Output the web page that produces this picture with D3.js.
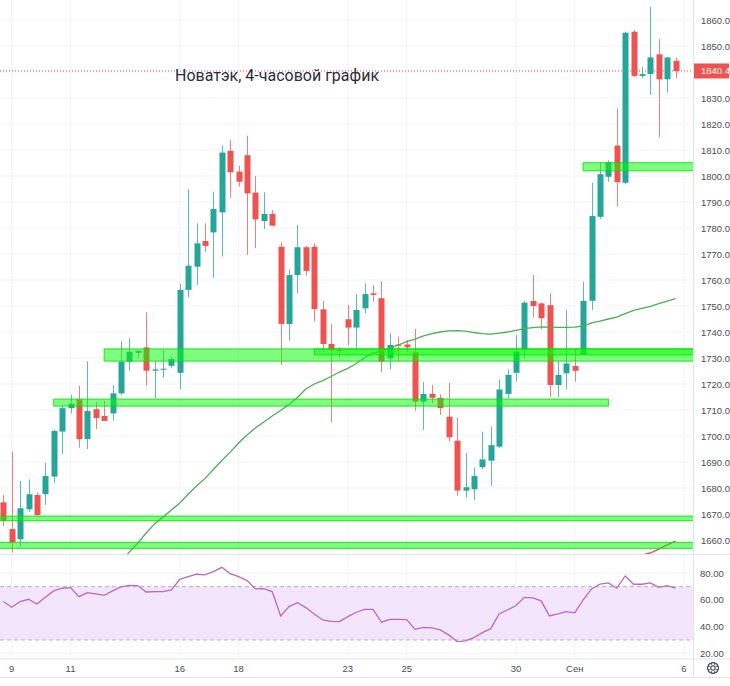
<!DOCTYPE html>
<html lang="ru">
<head>
<meta charset="UTF-8" />
<title>Новатэк, 4-часовой график</title>
<script src="https://d3js.org/d3.v7.min.js"></script>
<style>
  body { margin: 0; background: #fff; }
  svg text { font-family: "Liberation Sans Narrow", "Liberation Sans", Arial, sans-serif; }
  .grid line { stroke: #f0f3fa; }
  .axis-text { font-size: 9.5px; fill: #4a4d57; }
</style>
</head>
<body>
<svg id="chart" width="730" height="686"></svg>
<script>
// bar index -1 .. 79 (4-hour bars)
const opens = [1674.5,1664.2,1660.3,1671.8,1677.3,1677.6,1684.4,1701.7,1710.7,1714.1,1698.8,1710.3,1707.7,1708.7,1716.4,1728.6,1732.0,1734.1,1725.1,1725.5,1727.0,1724.3,1756.2,1765.1,1775.0,1778.3,1786.0,1809.7,1801.7,1808.0,1793.6,1782.7,1785.4,1772.8,1743.1,1761.9,1772.6,1772.8,1748.7,1735.4,1733.1,1744.9,1741.7,1749.1,1754.9,1753.0,1729.9,1735.2,1735.2,1732.2,1713.2,1716.2,1714.7,1707.4,1698.2,1679.0,1679.5,1688.0,1690.5,1695.9,1716.2,1724.3,1733.3,1751.9,1751.0,1750.3,1719.6,1724.1,1726.9,1731.2,1752.0,1784.3,1799.7,1811.7,1797.4,1855.5,1838.5,1839.2,1846.8,1837.2,1844.3];
const highs = [1677.3,1694.0,1682.7,1683.3,1678.3,1689.7,1702.5,1711.5,1715.8,1719.3,1728.8,1713.2,1713.5,1719.6,1736.5,1737.6,1732.8,1747.6,1728.6,1733.1,1730.5,1758.5,1795.0,1781.8,1781.8,1794.0,1811.7,1813.8,1804.0,1815.5,1800.0,1793.7,1786.9,1774.5,1764.1,1781.2,1773.1,1774.1,1752.0,1743.0,1734.1,1750.4,1754.6,1758.7,1758.1,1759.6,1739.5,1738.2,1736.9,1741.2,1720.7,1719.6,1716.0,1720.5,1707.0,1693.6,1687.8,1701.7,1703.6,1721.8,1725.5,1738.8,1752.0,1761.9,1751.4,1754.9,1728.6,1748.5,1733.7,1759.4,1797.4,1805.3,1806.0,1826.0,1855.5,1856.2,1842.0,1865.1,1852.6,1845.6,1845.6];
const lows = [1665.4,1655.1,1657.4,1670.7,1669.3,1673.5,1682.0,1693.1,1708.7,1695.5,1695.0,1702.6,1705.8,1705.9,1715.8,1725.1,1729.9,1719.3,1714.5,1722.4,1726.0,1718.0,1753.3,1758.1,1770.9,1760.9,1769.0,1791.7,1795.9,1769.6,1772.2,1779.6,1780.9,1727.3,1736.7,1754.9,1761.7,1744.0,1732.4,1705.3,1730.3,1735.0,1733.1,1747.2,1751.7,1724.7,1725.7,1728.6,1732.4,1709.7,1702.3,1712.6,1708.1,1697.8,1677.0,1676.3,1675.4,1687.2,1680.8,1695.3,1714.5,1720.9,1729.5,1745.6,1741.0,1714.9,1714.9,1718.0,1720.9,1731.2,1748.5,1783.5,1797.8,1788.2,1796.9,1838.0,1837.6,1831.2,1814.9,1832.0,1837.6];
const closes = [1667.4,1659.1,1672.2,1677.6,1669.6,1684.6,1701.9,1710.7,1712.4,1698.8,1709.6,1706.9,1705.8,1716.4,1728.6,1732.4,1732.8,1725.1,1725.6,1725.9,1729.6,1756.2,1765.5,1774.1,1773.1,1787.3,1809.0,1801.4,1797.8,1793.3,1783.3,1785.4,1780.9,1743.1,1761.9,1772.6,1763.5,1748.8,1735.4,1733.1,1732.7,1741.7,1748.5,1754.6,1754.3,1728.6,1735.0,1734.7,1734.1,1713.2,1716.2,1714.7,1710.7,1699.5,1679.0,1680.3,1684.6,1691.0,1696.5,1717.9,1723.5,1732.4,1751.3,1750.0,1745.3,1719.6,1723.5,1727.9,1725.1,1752.0,1784.6,1800.7,1805.3,1797.6,1855.1,1838.5,1839.2,1845.6,1837.2,1845.6,1840.4];
const firstBar = -1;

// green moving average, bars 13 .. 79
const maStart = 13;
const maGreen = [1651.5,1655.4,1658.8,1662.7,1666.2,1668.8,1671.5,1674.2,1677.7,1680.8,1683.7,1687.1,1690.6,1693.8,1697.3,1700.4,1703.1,1705.4,1707.7,1709.8,1712.1,1714.8,1718.1,1720.0,1721.3,1722.9,1724.6,1726.0,1727.9,1730.2,1731.9,1732.7,1733.7,1735.0,1736.3,1737.3,1738.5,1739.4,1740.0,1740.4,1740.5,1740.3,1739.8,1739.4,1739.2,1739.6,1740.0,1740.6,1741.3,1741.7,1742.0,1741.9,1741.8,1741.8,1741.9,1742.3,1743.5,1744.2,1745.0,1745.7,1747.1,1748.3,1749.1,1749.9,1750.9,1751.9,1752.8];
// red moving average, bars 75 .. 79
const maRedStart = 75;
const maRed = [1654.2,1655.0,1656.5,1658.1,1659.6];

// RSI, bars -1 .. 79
const rsi = [58.8,54.5,58.8,60.5,57.0,62.0,66.8,68.8,69.3,62.5,65.5,64.5,63.5,66.8,69.8,71.0,70.8,66.0,66.3,66.3,67.5,75.5,77.5,79.3,78.8,81.3,84.5,79.8,77.5,74.5,68.3,68.5,66.3,48.0,55.0,58.0,54.3,49.5,45.0,44.0,43.8,47.5,50.8,53.0,53.0,43.3,45.5,45.5,45.3,38.0,39.5,39.0,37.5,33.8,28.8,29.3,31.8,35.5,38.5,49.5,52.5,55.8,62.0,61.5,59.3,48.0,49.5,51.3,50.3,60.0,68.3,71.8,72.8,68.8,78.0,71.8,71.8,72.8,69.5,70.8,68.8];

// support / resistance zones: price range, first and last bar (null = chart edge)
const zoneTop = [1733.5, 1733.5, 1714.2, 1669.2, 1659.1, 1805.1];
const zoneBottom = [1728.8, 1731.2, 1711.5, 1667.4, 1656.8, 1802.0];
const zoneFrom = [11, 36, 5, null, null, 68];
const zoneTo = [null, null, 71, null, null, null];

const dayBars = [0, 7, 20, 27, 40, 47, 60, 67, 80];
const dayLabels = ["9", "11", "16", "18", "23", "25", "30", "Сен", "6"];
const priceTicks = d3.range(1660, 1861, 10);
const rsiTicks = [20, 40, 60, 80];
const lastPrice = 1840.4;

const svg = d3.select("#chart");
const plotRight = 693.5;
const mainTop = 0, mainBottom = 554;
const rsiTop = 554, rsiBottom = 658.5;
const axisBottom = 677;

const x = d3.scaleLinear().domain([0, 80]).range([11.7, 684]);
const y = d3.scaleLinear().domain([1660, 1860]).range([540, 20]);
const yr = d3.scaleLinear().domain([20, 80]).range([653.3, 573.3]);
const bodyW = 6;

const bars = opens.map((o, k) => ({ i: k + firstBar, o: o, h: highs[k], l: lows[k], c: closes[k] }));

svg.append("defs").append("clipPath").attr("id", "mainClip")
  .append("rect").attr("x", 0).attr("y", mainTop).attr("width", plotRight).attr("height", mainBottom - mainTop);
svg.select("defs").append("clipPath").attr("id", "rsiClip")
  .append("rect").attr("x", 0).attr("y", rsiTop).attr("width", plotRight).attr("height", rsiBottom - rsiTop);

// grid
const grid = svg.append("g").attr("class", "grid");
grid.selectAll("line.h").data(priceTicks).join("line").attr("class", "h")
  .attr("x1", 0).attr("x2", plotRight).attr("y1", d => y(d)).attr("y2", d => y(d));
grid.selectAll("line.hr").data(rsiTicks).join("line").attr("class", "hr")
  .attr("x1", 0).attr("x2", plotRight).attr("y1", d => yr(d)).attr("y2", d => yr(d));
grid.selectAll("line.v").data(dayBars).join("line").attr("class", "v")
  .attr("x1", d => x(d)).attr("x2", d => x(d)).attr("y1", 0).attr("y2", rsiBottom);

// last price dotted line
svg.append("line")
  .attr("x1", 0).attr("x2", plotRight).attr("y1", y(lastPrice)).attr("y2", y(lastPrice))
  .attr("stroke", "#ef5350").attr("stroke-width", 1).attr("stroke-dasharray", "1,2");

// candles
const main = svg.append("g").attr("clip-path", "url(#mainClip)");
const candle = main.selectAll("g.candle").data(bars).join("g").attr("class", "candle")
  .attr("fill", d => d.c >= d.o ? "#26a69a" : "#ef5350")
  .attr("stroke", d => d.c >= d.o ? "#26a69a" : "#ef5350");
candle.append("line")
  .attr("x1", d => Math.round(x(d.i)) + 0.5).attr("x2", d => Math.round(x(d.i)) + 0.5)
  .attr("y1", d => y(d.h)).attr("y2", d => y(d.l)).attr("stroke-width", 1).attr("stroke-opacity", 0.75);
candle.append("rect")
  .attr("x", d => Math.round(x(d.i)) + 0.5 - bodyW / 2)
  .attr("y", d => y(Math.max(d.o, d.c)))
  .attr("width", bodyW)
  .attr("height", d => Math.max(1, Math.abs(y(d.o) - y(d.c))))
  .attr("stroke", "none");

// moving averages
main.append("path")
  .datum(maGreen.map((v, k) => [k + maStart, v]))
  .attr("fill", "none").attr("stroke", "#4caf50").attr("stroke-width", 1.3)
  .attr("d", d3.line().x(d => x(d[0])).y(d => y(d[1])));
main.append("path")
  .datum(maRed.map((v, k) => [k + maRedStart, v]))
  .attr("fill", "none").attr("stroke", "#f44336").attr("stroke-width", 1.3)
  .attr("d", d3.line().x(d => x(d[0])).y(d => y(d[1])));

// zones
main.selectAll("rect.zone").data(zoneTop.map((t, k) => k)).join("rect").attr("class", "zone")
  .attr("x", k => zoneFrom[k] === null ? -2 : x(zoneFrom[k]))
  .attr("y", k => y(zoneTop[k]))
  .attr("width", k => (zoneTo[k] === null ? plotRight + 2 : x(zoneTo[k])) - (zoneFrom[k] === null ? -2 : x(zoneFrom[k])))
  .attr("height", k => y(zoneBottom[k]) - y(zoneTop[k]))
  .attr("fill", "rgba(0,255,0,0.5)")
  .attr("stroke", "rgba(0,225,0,0.85)").attr("stroke-width", 1);

// title
svg.append("text")
  .attr("x", 175).attr("y", 80.5)
  .style("font-family", "Roboto, 'Noto Sans', sans-serif")
  .style("font-size", "16px").attr("fill", "#2a2e39")
  .text("Новатэк, 4-часовой график");

// RSI pane
const rsiG = svg.append("g").attr("clip-path", "url(#rsiClip)");
rsiG.append("rect")
  .attr("x", 0).attr("width", plotRight)
  .attr("y", yr(70)).attr("height", yr(30) - yr(70))
  .attr("fill", "#f3e5fb");
rsiG.selectAll("line.band").data([70, 30]).join("line").attr("class", "band")
  .attr("x1", 0).attr("x2", plotRight).attr("y1", d => yr(d)).attr("y2", d => yr(d))
  .attr("stroke", "#b8b0c4").attr("stroke-dasharray", "4,3");
rsiG.append("path")
  .datum(rsi.map((v, k) => [k + firstBar, v]))
  .attr("fill", "none").attr("stroke", "#ba68c8").attr("stroke-width", 1.3)
  .attr("d", d3.line().x(d => x(d[0])).y(d => yr(d[1])));

// borders
const border = "#e0e3eb";
svg.append("line").attr("x1", 0).attr("x2", 730).attr("y1", mainBottom + 0.5).attr("y2", mainBottom + 0.5).attr("stroke", border);
svg.append("line").attr("x1", 0).attr("x2", 730).attr("y1", rsiBottom + 0.5).attr("y2", rsiBottom + 0.5).attr("stroke", border);
svg.append("line").attr("x1", 0).attr("x2", 730).attr("y1", axisBottom + 0.5).attr("y2", axisBottom + 0.5).attr("stroke", border);
svg.append("line").attr("x1", plotRight).attr("x2", plotRight).attr("y1", 0).attr("y2", axisBottom).attr("stroke", border);

// price axis
svg.selectAll("text.price").data(priceTicks).join("text").attr("class", "price axis-text")
  .attr("x", 701).attr("y", d => y(d) + 3.5).text(d => d.toFixed(1));
svg.selectAll("text.rsi").data(rsiTicks).join("text").attr("class", "rsi axis-text")
  .attr("x", 700).attr("y", d => yr(d) + 3.5).text(d => d.toFixed(2));

// last price label
svg.append("rect").attr("x", plotRight + 0.5).attr("y", y(lastPrice) - 7.5).attr("width", 35).attr("height", 15)
  .attr("fill", "#ef5350");
svg.append("text").attr("class", "axis-text").attr("x", 701).attr("y", y(lastPrice) + 3.5)
  .attr("fill", "#fff").style("fill", "#fff").text(lastPrice.toFixed(1));

// time axis
svg.selectAll("text.day").data(dayBars).join("text").attr("class", "day axis-text")
  .attr("x", d => x(d)).attr("y", 671.5).attr("text-anchor", "middle")
  .text((d, k) => dayLabels[k]);

// settings gear
const gear = svg.append("g").attr("transform", "translate(713,668)")
  .attr("fill", "none").attr("stroke", "#4a4d57").attr("stroke-width", 1.2);
gear.append("circle").attr("r", 2.2);
gear.append("path").attr("d", d3.range(8).map(k => {
  const a0 = k * Math.PI / 4 - 0.22, a1 = k * Math.PI / 4 + 0.22;
  const b1 = (k + 1) * Math.PI / 4 - 0.22;
  const p = (r, a) => `${(r * Math.cos(a)).toFixed(2)},${(r * Math.sin(a)).toFixed(2)}`;
  return `${k === 0 ? "M" : "L"}${p(5.6, a0)}L${p(5.6, a1)}L${p(4.2, a1 + 0.15)}L${p(4.2, b1 - 0.15)}`;
}).join("") + "Z");
</script>
</body>
</html>
